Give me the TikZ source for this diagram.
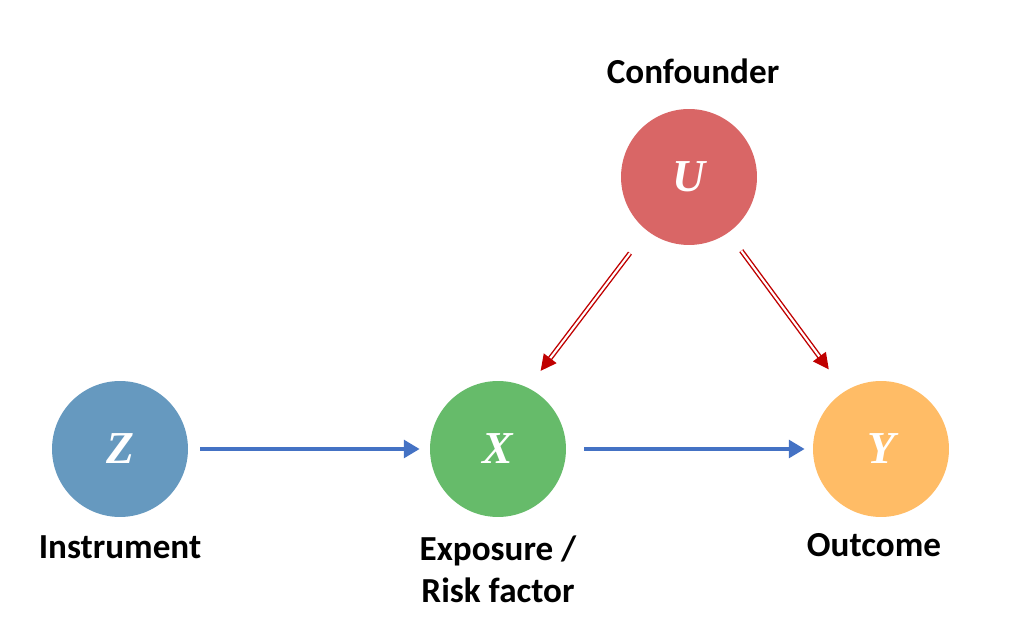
\documentclass[tikz,border=0pt]{standalone}
\usepackage{fontspec}
\setmainfont{Carlito}
\newfontfamily\varfont{Liberation Serif}
\usetikzlibrary{arrows.meta, positioning}

\definecolor{zblue}{RGB}{102,153,191}
\definecolor{xgreen}{RGB}{102,187,106}
\definecolor{yorange}{RGB}{255,188,102}
\definecolor{ured}{RGB}{217,102,102}
\definecolor{linkblue}{RGB}{68,114,196}
\definecolor{linkred}{RGB}{192,0,0}

\begin{document}
\begin{tikzpicture}[
    x=0.02cm, y=-0.02cm, % work in pixel units
    >=Latex, % Set default arrow tip style
    var/.style={circle, minimum size=2.72cm, inner sep=0pt, text=white,
        font=\varfont\bfseries\itshape\fontsize{26}{28}\selectfont},
    lbl/.style={inner sep=0pt, align=center,
        font=\bfseries\fontsize{20}{24}\selectfont},
    path/.style={->, line width=2.3pt, linkblue,
        -{Triangle[length=9pt, width=10pt]}},
    conf/.style={linkred, double=white, line width=0.8pt, double distance=1.2pt,
        -{Triangle[length=9pt, width=9pt, fill=linkred]}}
]

    % --- Frame ---
    \useasboundingbox (0,0) rectangle (1012,631);

    % --- Variables ---
    \node[var, fill=zblue] (Z) at (120,449) {Z};
    \node[var, fill=xgreen] (X) at (498,449) {X};
    \node[var, fill=yorange] (Y) at (881,449) {Y};
    \node[var, fill=ured] (U) at (689,177) {U};

    % --- Labels ---
    \node[lbl, above=0.5cm of U, xshift=0.08cm] (Ulbl) {Confounder};
    \node[lbl, below=0.36cm of Z] (Zlbl) {Instrument};
    \node[lbl, below=0.36cm of X] (Xlbl) {Exposure /\\Risk factor};
    \node[lbl, below=0.32cm of Y, xshift=-0.14cm] (Ylbl) {Outcome};

    % --- Causal paths ---
    \draw[path, shorten <=0.24cm, shorten >=0.2cm] (Z) -- (X);
    \draw[path, shorten <=0.36cm, shorten >=0.16cm] (X) -- (Y);

    % --- Confounding paths (double lines) ---
    \draw[conf, shorten <=0.56cm, shorten >=0.42cm] (U.232) -- (X.64);
    \draw[conf, shorten <=0.44cm, shorten >=0.54cm] (U.305) -- (Y.122);

\end{tikzpicture}
\end{document}
